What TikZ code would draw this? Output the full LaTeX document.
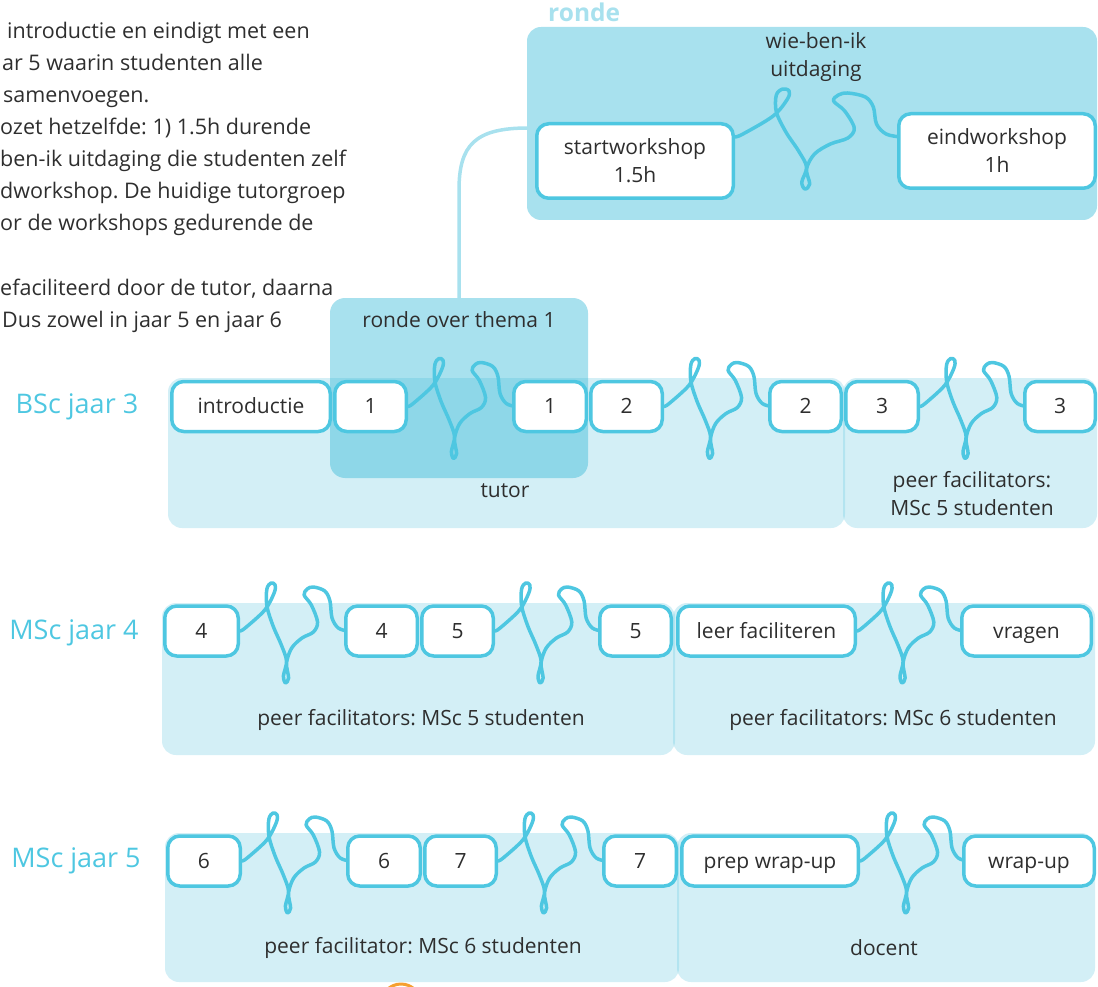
\documentclass[tikz,border=0pt]{standalone}
\usepackage{fontspec}
\setmainfont{Open Sans}
\frenchspacing
\definecolor{cstroke}{HTML}{4EC7E1}
\definecolor{cbg}{RGB}{108,202,225}
\definecolor{cronde}{HTML}{A8E1EE}
\definecolor{cthema}{RGB}{47,183,214}
\definecolor{ctext}{HTML}{2E2E2E}
\definecolor{corange}{HTML}{F5A031}
\pgfdeclarelayer{bgl}\pgfdeclarelayer{midl}\pgfsetlayers{bgl,midl,main}
\newcommand\fs{\fontsize{21}{28}\selectfont}
\newcommand\fp{\fontsize{21.5}{28}\selectfont}
\newcommand\fl{\fontsize{27}{30}\selectfont}
\tikzset{
  box/.style={draw=cstroke, line width=3.5, fill=white, rounded corners=12,
    minimum height=50, inner sep=0, text=ctext, font=\fs},
  onebox/.style={box, text height=15.3pt, text depth=0.6pt},
  bigbox/.style={box, minimum height=74.5, align=center},
  bgrect/.style={fill=cbg, fill opacity=0.3, rounded corners=14},
  thema/.style={fill=cthema, fill opacity=0.42, rounded corners=15},
  squig/.style={draw=cstroke, line width=3.5, line cap=round, line join=round},
  link/.style={draw=cronde, line width=3.5},
  lab/.style={text=ctext, font=\fs},
  rowlab/.style={text=cstroke, font=\fl},
  para/.style={text=ctext, font=\fp, anchor=base west, inner sep=0},
}
\newcommand\squig[3]{%
  \draw[squig, shift={(#1.east)}, xscale=#3] plot[smooth, tension=0.55] coordinates {
   (0,0) (5,-3) (24,-21) (33,-38) (34,-46) (30,-48) (26,-42) (26,-25) (32,-5)
   (40,14) (45,30) (42,45) (44,52) (47,47) (45,32) (50,17) (60,7) (71,1) (75,-9)
   (69,-26) (62,-36) (65,-42) (71,-44) (82,-40) (87,-30) (89,-13) (95,-3) (104,0)};}
\begin{document}
\begin{tikzpicture}[x=1pt, y=-1pt]
\useasboundingbox (0,0) rectangle (1098,987);

% paragraph text (clipped at the left edge)
\node[para] (p1) at (7,39) {introductie en eindigt met een};
\node[para] (p2) at (2,71) {ar 5 waarin studenten alle};
\node[para] (p3) at (3,103) {samenvoegen.};
\node[para] (p4) at (0,135) {ozet hetzelfde: 1) 1.5h durende};
\node[para] (p5) at (0,167) {ben-ik uitdaging die studenten zelf};
\node[para] (p6) at (0,199) {dworkshop. De huidige tutorgroep};
\node[para] (p7) at (0,231) {or de workshops gedurende de};
\node[para] (p8) at (0,295) {efaciliteerd door de tutor, daarna};
\node[para] (p9) at (2,327) {Dus zowel in jaar 5 en jaar 6};

% backgrounds
\begin{pgfonlayer}{bgl}
  \fill[cronde, rounded corners=14] (527,27) rectangle (1097,220);
  \fill[bgrect] (168,378) rectangle (845,528);
  \fill[bgrect] (843,378) rectangle (1097,528);
  \fill[bgrect] (162,603) rectangle (675,755);
  \fill[bgrect] (673,603) rectangle (1095,755);
  \fill[bgrect] (165,833) rectangle (679,982);
  \fill[bgrect] (677,833) rectangle (1095,982);
  \fill[thema] (330,298) rectangle (588,478);
\end{pgfonlayer}
\node[anchor=base west, inner sep=0, text=cronde, font=\fontsize{24.5}{26}\selectfont\bfseries] (rondelab) at (548,22) {ronde};
\node[lab] (themalab) at (459,320) {ronde over thema 1};
\coordinate (thematop) at (459,298);
\coordinate (rondestart) at (528,128);
\coordinate (bend) at (459,190);

% top ronde detail
\node[bigbox, minimum width=196.5] (start) at (635,161) {startworkshop\\1.5h};
\node[bigbox, minimum width=196.5] (eind) at (997,151) {eindworkshop\\1h};
\node[lab, align=center] (wie) at (816,57) {wie-ben-ik\\uitdaging};

% row labels
\node[rowlab] (l3) at (77,407) {BSc jaar 3};
\node[rowlab] (l4) at (74,633) {MSc jaar 4};
\node[rowlab] (l5) at (76,861) {MSc jaar 5};

% BSc jaar 3
\node[onebox, minimum width=158.5] (intro) at (251,406.5) {introductie};
\node[onebox, minimum width=71.5] (b1a) at (370.5,406.5) {1};
\node[onebox, minimum width=72.5] (b1b) at (550,406.5) {1};
\node[onebox, minimum width=71.5] (b2a) at (626.5,406.5) {2};
\node[onebox, minimum width=71.5] (b2b) at (805.5,406.5) {2};
\node[onebox, minimum width=72.5] (b3a) at (882,406.5) {3};
\node[onebox, minimum width=70.5] (b3b) at (1060,406.5) {3};
\node[lab] (tutor) at (505,491) {tutor};
\node[lab, align=center] (pf5a) at (972,494) {peer facilitators:\\MSc 5 studenten};

% MSc jaar 4
\node[onebox, minimum width=73.5] (m4a) at (201.5,631) {4};
\node[onebox, minimum width=71.5] (m4b) at (381.5,631) {4};
\node[onebox, minimum width=71.5] (m5a) at (457.5,631) {5};
\node[onebox, minimum width=71.5] (m5b) at (635.5,631) {5};
\node[onebox, minimum width=177.5] (leer) at (766.5,631) {leer faciliteren};
\node[onebox, minimum width=129.5] (vragen) at (1026.5,631) {vragen};
\node[lab] (pf5b) at (421,720) {peer facilitators: MSc 5 studenten};
\node[lab] (pf6a) at (893,720) {peer facilitators: MSc 6 studenten};

% MSc jaar 5
\node[onebox, minimum width=72.5] (m6a) at (204,861) {6};
\node[onebox, minimum width=72.5] (m6b) at (384,861) {6};
\node[onebox, minimum width=71.5] (m7a) at (460.5,861) {7};
\node[onebox, minimum width=72.5] (m7b) at (640,861) {7};
\node[onebox, minimum width=176.5] (prep) at (770,861) {prep wrap-up};
\node[onebox, minimum width=130.5] (wrap) at (1029,861) {wrap-up};
\node[lab] (pf6b) at (423,948) {peer facilitator: MSc 6 studenten};
\node[lab] (docent) at (884,948) {docent};

% connectors
\begin{pgfonlayer}{bgl}
  \draw[link] (rondestart) .. controls (475,128) and (459,145) .. (bend) -- (thematop);
  \draw[corange, line width=3] (401,1004) circle (20);
\end{pgfonlayer}
\begin{pgfonlayer}{midl}
  \draw[squig, shift={([yshift=24]start.east)}, xscale=1.59] plot[smooth, tension=0.55] coordinates {
   (0,0) (5,-3) (24,-21) (33,-38) (34,-46) (30,-48) (26,-42) (26,-25) (32,-5)
   (40,14) (45,30) (42,45) (44,52) (47,47) (45,32) (50,17) (60,7) (71,1) (75,-9)
   (69,-26) (62,-36) (65,-42) (71,-44) (82,-40) (87,-30) (89,-13) (95,-3) (104,0)};
  \squig{b1a}{b1b}{1.034}
  \squig{b2a}{b2b}{1.034}
  \squig{b3a}{b3b}{1.024}
  \squig{m4a}{m4b}{1.034}
  \squig{m5a}{m5b}{1.024}
  \squig{leer}{vragen}{1.024}
  \squig{m6a}{m6b}{1.034}
  \squig{m7a}{m7b}{1.034}
  \squig{prep}{wrap}{1.034}
\end{pgfonlayer}
\end{tikzpicture}
\end{document}
